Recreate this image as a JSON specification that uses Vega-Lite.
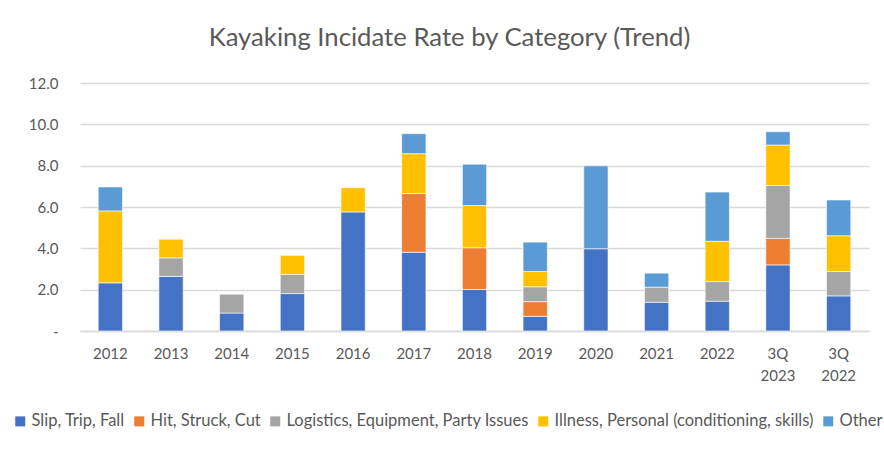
{
  "$schema": "https://vega.github.io/schema/vega-lite/v6.json",
  "autosize": "none",
  "width": 789,
  "height": 248,
  "padding": {"left": 80, "top": 83, "right": 15, "bottom": 125},
  "background": "white",
  "config": {
    "font": "Lato",
    "view": {"stroke": null},
    "axis": {"labelFont": "Lato", "labelColor": "#595959", "labelFontSize": 15},
    "legend": {"labelFont": "Lato", "labelColor": "#595959", "labelFontSize": 16.5}
  },
  "title": {
    "text": "Kayaking Incidate Rate by Category (Trend)",
    "font": "Lato",
    "fontSize": 25.7,
    "fontWeight": "normal",
    "color": "#595959",
    "anchor": "middle",
    "dx": -25,
    "offset": 24
  },
  "data": {
    "values": [
      {"period": "2012", "category": "Slip, Trip, Fall", "rate": 2.33},
      {"period": "2012", "category": "Illness, Personal (conditioning, skills)", "rate": 3.48},
      {"period": "2012", "category": "Other", "rate": 1.16},
      {"period": "2013", "category": "Slip, Trip, Fall", "rate": 2.64},
      {"period": "2013", "category": "Logistics, Equipment, Party Issues", "rate": 0.9},
      {"period": "2013", "category": "Illness, Personal (conditioning, skills)", "rate": 0.9},
      {"period": "2014", "category": "Slip, Trip, Fall", "rate": 0.87},
      {"period": "2014", "category": "Logistics, Equipment, Party Issues", "rate": 0.91},
      {"period": "2015", "category": "Slip, Trip, Fall", "rate": 1.81},
      {"period": "2015", "category": "Logistics, Equipment, Party Issues", "rate": 0.93},
      {"period": "2015", "category": "Illness, Personal (conditioning, skills)", "rate": 0.92},
      {"period": "2016", "category": "Slip, Trip, Fall", "rate": 5.76},
      {"period": "2016", "category": "Illness, Personal (conditioning, skills)", "rate": 1.17},
      {"period": "2017", "category": "Slip, Trip, Fall", "rate": 3.81},
      {"period": "2017", "category": "Hit, Struck, Cut", "rate": 2.84},
      {"period": "2017", "category": "Illness, Personal (conditioning, skills)", "rate": 1.93},
      {"period": "2017", "category": "Other", "rate": 0.97},
      {"period": "2018", "category": "Slip, Trip, Fall", "rate": 2.01},
      {"period": "2018", "category": "Hit, Struck, Cut", "rate": 2.02},
      {"period": "2018", "category": "Illness, Personal (conditioning, skills)", "rate": 2.04},
      {"period": "2018", "category": "Other", "rate": 2.0},
      {"period": "2019", "category": "Slip, Trip, Fall", "rate": 0.71},
      {"period": "2019", "category": "Hit, Struck, Cut", "rate": 0.71},
      {"period": "2019", "category": "Logistics, Equipment, Party Issues", "rate": 0.72},
      {"period": "2019", "category": "Illness, Personal (conditioning, skills)", "rate": 0.74},
      {"period": "2019", "category": "Other", "rate": 1.42},
      {"period": "2020", "category": "Slip, Trip, Fall", "rate": 3.98},
      {"period": "2020", "category": "Other", "rate": 4.01},
      {"period": "2021", "category": "Slip, Trip, Fall", "rate": 1.39},
      {"period": "2021", "category": "Logistics, Equipment, Party Issues", "rate": 0.73},
      {"period": "2021", "category": "Other", "rate": 0.68},
      {"period": "2022", "category": "Slip, Trip, Fall", "rate": 1.44},
      {"period": "2022", "category": "Logistics, Equipment, Party Issues", "rate": 0.95},
      {"period": "2022", "category": "Illness, Personal (conditioning, skills)", "rate": 1.95},
      {"period": "2022", "category": "Other", "rate": 2.38},
      {"period": "3Q 2023", "category": "Slip, Trip, Fall", "rate": 3.2},
      {"period": "3Q 2023", "category": "Hit, Struck, Cut", "rate": 1.28},
      {"period": "3Q 2023", "category": "Logistics, Equipment, Party Issues", "rate": 2.56},
      {"period": "3Q 2023", "category": "Illness, Personal (conditioning, skills)", "rate": 1.96},
      {"period": "3Q 2023", "category": "Other", "rate": 0.64},
      {"period": "3Q 2022", "category": "Slip, Trip, Fall", "rate": 1.7},
      {"period": "3Q 2022", "category": "Logistics, Equipment, Party Issues", "rate": 1.18},
      {"period": "3Q 2022", "category": "Illness, Personal (conditioning, skills)", "rate": 1.73},
      {"period": "3Q 2022", "category": "Other", "rate": 1.73}
    ]
  },
  "transform": [
    {"calculate": "indexof(['Slip, Trip, Fall','Hit, Struck, Cut','Logistics, Equipment, Party Issues','Illness, Personal (conditioning, skills)','Other'], datum.category)", "as": "stackOrder"}
  ],
  "mark": {"type": "bar", "stroke": "white", "strokeWidth": 0.6},
  "encoding": {
    "x": {
      "field": "period",
      "type": "nominal",
      "sort": ["2012","2013","2014","2015","2016","2017","2018","2019","2020","2021","2022","3Q 2023","3Q 2022"],
      "scale": {"paddingInner": 0.6, "paddingOuter": 0.3},
      "axis": {
        "title": null,
        "labelAngle": 0,
        "domain": true,
        "domainColor": "#d9d9d9",
        "domainWidth": 1.3,
        "ticks": false,
        "labelPadding": 15,
        "labelLineHeight": 22,
        "labelExpr": "split(datum.label, ' ')"
      }
    },
    "y": {
      "field": "rate",
      "type": "quantitative",
      "stack": "zero",
      "scale": {"domain": [0, 12]},
      "axis": {
        "title": null,
        "values": [0, 2, 4, 6, 8, 10, 12],
        "labelExpr": "datum.value == 0 ? '-' : format(datum.value, '.1f')",
        "domain": false,
        "ticks": false,
        "gridColor": "#d9d9d9",
        "gridWidth": 1.3,
        "labelPadding": 22
      }
    },
    "order": {"field": "stackOrder", "type": "quantitative", "sort": "ascending"},
    "color": {
      "field": "category",
      "type": "nominal",
      "sort": ["Slip, Trip, Fall","Hit, Struck, Cut","Logistics, Equipment, Party Issues","Illness, Personal (conditioning, skills)","Other"],
      "scale": {
        "domain": ["Slip, Trip, Fall","Hit, Struck, Cut","Logistics, Equipment, Party Issues","Illness, Personal (conditioning, skills)","Other"],
        "range": ["#4472C4","#ED7D31","#A5A5A5","#FFC000","#5B9BD5"]
      },
      "legend": {
        "title": null,
        "orient": "none",
        "direction": "horizontal",
        "columns": 5,
        "legendX": -68,
        "legendY": 330,
        "symbolType": "square",
        "symbolSize": 100,
        "symbolStrokeWidth": 0,
        "labelOffset": 3,
        "columnPadding": 6,
        "labelLimit": 400
      }
    }
  }
}
